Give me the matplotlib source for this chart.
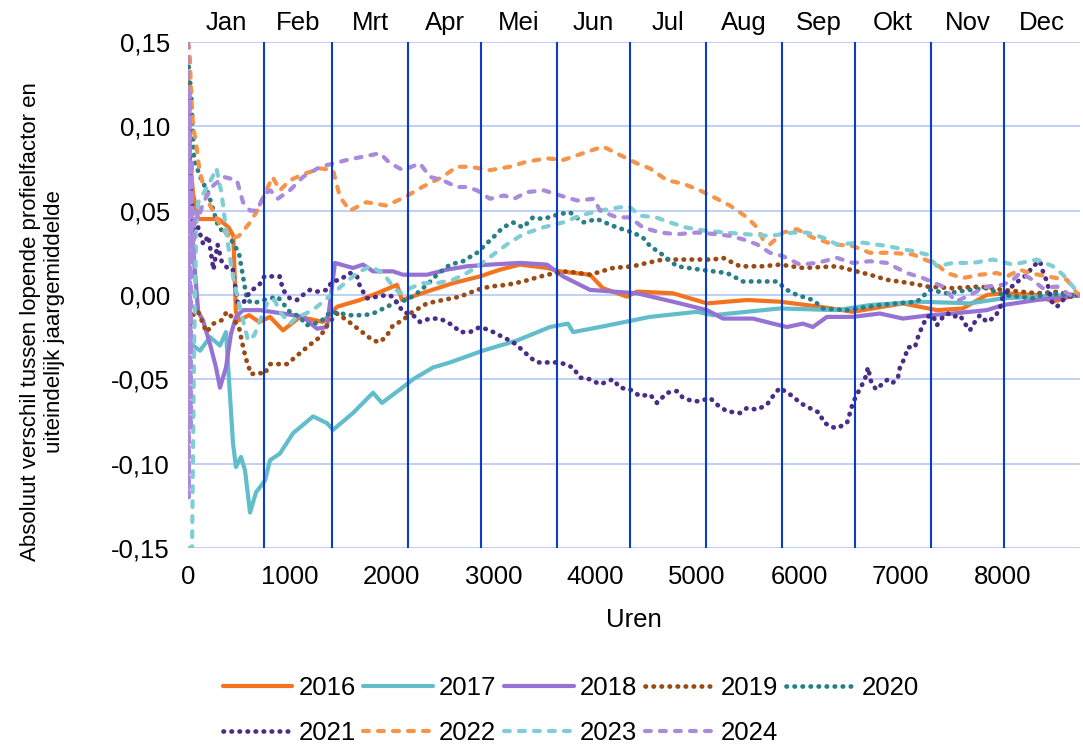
import matplotlib
matplotlib.use('Agg')
import matplotlib.pyplot as plt
from matplotlib.ticker import FuncFormatter

plt.rcParams['font.family'] = ['Liberation Sans', 'DejaVu Sans']
plt.rcParams['axes.unicode_minus'] = False

# uren en waarden per jaar
h2016 = [0, 20, 50, 100, 200, 300, 400, 445, 470, 500, 600, 700, 805, 933, 1100, 1325, 1463, 1689, 1856, 2052,
         2101, 2347, 2602, 2867, 3064, 3260, 3525, 3653, 3948, 4075, 4311, 4409, 4763, 5097, 5490, 5813, 6206, 6530,
         7021, 7355, 7610, 7846, 8003, 8337, 8494, 8661, 8760]
v2016 = [0.13, 0.08, 0.06, 0.045, 0.045, 0.045, 0.04, 0.035, -0.01, -0.015, -0.012, -0.016, -0.013, -0.021, -0.013,
         -0.016, -0.007, -0.003, 0.001, 0.006, -0.003, 0.002, 0.007, 0.011, 0.015, 0.018, 0.016, 0.014, 0.012, 0.004,
         -0.001, 0.002, 0.001, -0.005, -0.003, -0.004, -0.007, -0.010, -0.005, -0.009, -0.008, 0.0, 0.001, 0.0,
         -0.004, -0.001, 0.0]

h2017 = [0, 20, 49, 118, 216, 314, 373, 442, 471, 520, 560, 609, 668, 756, 805, 903, 1031, 1228, 1365, 1424,
         1620, 1817, 1905, 2082, 2210, 2406, 2573, 2897, 3231, 3555, 3732, 3781, 4046, 4537, 4998, 5156, 5813, 6373,
         6697, 7188, 7679, 8003, 8337, 8661, 8760]
v2017 = [0.03, -0.02, -0.03, -0.033, -0.025, -0.03, -0.022, -0.088, -0.102, -0.096, -0.104, -0.129, -0.117, -0.11,
         -0.098, -0.094, -0.082, -0.072, -0.076, -0.080, -0.070, -0.058, -0.064, -0.056, -0.050, -0.043, -0.040,
         -0.033, -0.027, -0.019, -0.017, -0.022, -0.019, -0.013, -0.010, -0.012, -0.008, -0.009, -0.006, -0.004,
         -0.005, -0.002, -0.001, 0.0, 0.0]

h2018 = [0, 20, 60, 100, 147, 220, 275, 314, 373, 422, 471, 540, 707, 933, 1129, 1267, 1365, 1443, 1620, 1719,
         1817, 2013, 2111, 2347, 2543, 2740, 2966, 3260, 3525, 3683, 3948, 4174, 4409, 4763, 5097, 5254, 5548, 5745,
         5882, 6039, 6137, 6275, 6530, 6795, 7021, 7286, 7512, 7846, 8003, 8337, 8661, 8760]
v2018 = [0.10, 0.06, 0.02, -0.01, -0.015, -0.03, -0.043, -0.055, -0.043, -0.023, -0.013, -0.009, -0.009, -0.011,
         -0.013, -0.020, -0.019, 0.019, 0.016, 0.018, 0.014, 0.014, 0.012, 0.012, 0.015, 0.017, 0.018, 0.019, 0.018,
         0.011, 0.003, 0.002, 0.001, -0.004, -0.009, -0.014, -0.014, -0.017, -0.019, -0.017, -0.019, -0.013, -0.013,
         -0.011, -0.014, -0.012, -0.011, -0.009, -0.006, -0.003, -0.001, 0.0]

h2019 = [0, 20, 60, 100, 180, 250, 330, 380, 430, 500, 545, 570, 620, 690, 750, 805, 972, 1129, 1228, 1296,
         1365, 1463, 1561, 1689, 1817, 1885, 1954, 2013, 2111, 2180, 2347, 2504, 2671, 2838, 2966, 3133, 3290, 3525,
         3722, 3948, 4174, 4370, 4507, 4665, 5156, 5254, 5421, 5646, 5813, 6039, 6373, 6501, 6697, 6864, 7090, 7257,
         7512, 7777, 8003, 8337, 8563, 8661, 8760]
v2019 = [0.0, -0.02, -0.01, -0.01, -0.022, -0.017, -0.015, -0.01, -0.013, -0.019, -0.032, -0.038, -0.047, -0.046,
         -0.047, -0.041, -0.041, -0.033, -0.028, -0.025, -0.018, -0.011, -0.015, -0.021, -0.027, -0.028, -0.024,
         -0.018, -0.015, -0.011, -0.005, -0.003, -0.001, 0.003, 0.005, 0.006, 0.008, 0.012, 0.014, 0.012, 0.016,
         0.017, 0.019, 0.021, 0.021, 0.022, 0.017, 0.017, 0.018, 0.016, 0.017, 0.015, 0.012, 0.009, 0.007, 0.005,
         0.004, 0.005, 0.003, 0.001, 0.002, -0.001, 0.0]

h2020 = [0, 30, 60, 120, 200, 300, 400, 500, 540, 580, 640, 740, 880, 1000, 1100, 1160, 1300, 1400, 1600, 1730,
         1817, 1954, 2052, 2150, 2250, 2347, 2445, 2573, 2700, 2838, 2995, 3093, 3192, 3290, 3388, 3486, 3653, 3751,
         3879, 4016, 4212, 4370, 4468, 4537, 4635, 4802, 5028, 5293, 5450, 5784, 5882, 5980, 6137, 6236, 6471, 6795,
         6962, 7159, 7286, 7453, 7679, 7846, 8003, 8298, 8435, 8661, 8760]
v2020 = [0.14, 0.12, 0.08, 0.07, 0.06, 0.04, 0.035, 0.025, 0.011, -0.003, -0.005, -0.003, -0.001, -0.010, -0.013,
         -0.018, -0.016, -0.010, -0.012, -0.012, -0.011, -0.007, -0.004, -0.003, 0.001, 0.006, 0.012, 0.018, 0.020,
         0.025, 0.034, 0.040, 0.043, 0.040, 0.046, 0.045, 0.048, 0.049, 0.043, 0.045, 0.040, 0.037, 0.034, 0.029,
         0.025, 0.017, 0.015, 0.013, 0.008, 0.008, 0.003, 0.0, -0.003, -0.008, -0.009, -0.006, -0.005, -0.004, 0.003,
         0.001, 0.003, 0.004, 0.0, -0.002, 0.001, 0.0, 0.0]

h2021 = [0, 30, 60, 100, 150, 200, 250, 290, 330, 400, 440, 490, 550, 610, 700, 750, 800, 900, 933, 1000,
         1070, 1129, 1198, 1267, 1365, 1414, 1493, 1591, 1660, 1689, 1758, 1856, 1954, 2013, 2111, 2210, 2278, 2376,
         2475, 2602, 2671, 2769, 2867, 2966, 3093, 3192, 3290, 3359, 3427, 3555, 3653, 3781, 3849, 3948, 4046, 4174,
         4242, 4340, 4439, 4537, 4606, 4704, 4802, 4861, 4959, 5028, 5126, 5195, 5293, 5421, 5490, 5589, 5686, 5745,
         5813, 5882, 5941, 6010, 6137, 6206, 6236, 6304, 6373, 6471, 6501, 6530, 6570, 6648, 6678, 6707, 6756, 6874,
         6923, 6972, 6992, 7041, 7070, 7139, 7169, 7208, 7257, 7316, 7355, 7414, 7463, 7512, 7581, 7630, 7679, 7728,
         7777, 7846, 7925, 7974, 8003, 8072, 8170, 8239, 8298, 8367, 8396, 8435, 8484, 8534, 8593, 8661, 8760]
v2021 = [0.12, 0.06, 0.035, 0.04, 0.03, 0.035, 0.015, 0.03, 0.02, 0.015, 0.015, -0.005, -0.004, 0.002, 0.006,
         0.011, 0.011, 0.011, 0.003, -0.002, -0.003, 0.0, 0.003, 0.002, 0.003, 0.008, 0.009, 0.013, 0.011, 0.005,
         -0.002, -0.001, 0.0, -0.001, -0.010, -0.012, -0.016, -0.014, -0.014, -0.018, -0.022, -0.022, -0.019, -0.021,
         -0.025, -0.028, -0.033, -0.037, -0.040, -0.040, -0.040, -0.043, -0.049, -0.050, -0.053, -0.050, -0.055,
         -0.056, -0.060, -0.059, -0.064, -0.058, -0.057, -0.061, -0.063, -0.063, -0.061, -0.065, -0.069, -0.070,
         -0.067, -0.068, -0.065, -0.060, -0.055, -0.058, -0.060, -0.064, -0.068, -0.070, -0.075, -0.078, -0.079,
         -0.076, -0.070, -0.064, -0.059, -0.050, -0.043, -0.051, -0.056, -0.050, -0.052, -0.049, -0.043, -0.037,
         -0.031, -0.031, -0.025, -0.019, -0.013, -0.012, -0.018, -0.013, -0.011, -0.013, -0.012, -0.017, -0.021,
         -0.016, -0.012, -0.016, -0.013, -0.008, -0.001, 0.004, 0.009, 0.012, 0.017, 0.020, 0.014, 0.008, -0.004,
         -0.007, -0.003, 0.0, 0.0]

h2022 = [0, 15, 30, 50, 80, 110, 150, 200, 260, 330, 420, 500, 610, 680, 740, 830, 903, 1000, 1150, 1300,
         1424, 1493, 1590, 1750, 1950, 2130, 2300, 2500, 2640, 2770, 2966, 3160, 3325, 3525, 3683, 3879, 4075, 4242,
         4409, 4537, 4704, 4861, 5028, 5195, 5323, 5490, 5589, 5646, 5715, 5843, 5980, 6137, 6334, 6530, 6697, 6894,
         7120, 7355, 7453, 7610, 7777, 7944, 8043, 8170, 8268, 8435, 8632, 8730, 8760]
v2022 = [0.15, 0.145, 0.12, 0.10, 0.09, 0.075, 0.065, 0.055, 0.048, 0.04, 0.033, 0.035, 0.043, 0.05, 0.058, 0.07,
         0.062, 0.068, 0.072, 0.075, 0.074, 0.058, 0.05, 0.055, 0.053, 0.058, 0.064, 0.070, 0.076, 0.076, 0.074,
         0.076, 0.079, 0.081, 0.080, 0.084, 0.088, 0.083, 0.078, 0.075, 0.068, 0.066, 0.062, 0.057, 0.053, 0.046,
         0.040, 0.033, 0.030, 0.037, 0.039, 0.034, 0.030, 0.029, 0.025, 0.025, 0.024, 0.018, 0.013, 0.010, 0.012,
         0.013, 0.011, 0.015, 0.013, 0.011, 0.009, 0.001, 0.0]

h2023 = [0, 40, 60, 80, 100, 200, 280, 330, 380, 430, 480, 540, 590, 650, 740, 790, 850, 903, 1000, 1070,
         1160, 1267, 1365, 1463, 1561, 1660, 1788, 1915, 2013, 2082, 2180, 2307, 2445, 2602, 2740, 2867, 3133, 3290,
         3486, 3683, 3849, 4046, 4242, 4340, 4439, 4596, 4733, 4891, 5087, 5283, 5480, 5716, 5941, 6079, 6236, 6373,
         6629, 6864, 7120, 7257, 7355, 7512, 7708, 7904, 8102, 8337, 8494, 8593, 8691, 8760]
v2023 = [-0.15, -0.15, -0.03, 0.04, 0.055, 0.065, 0.075, 0.06, 0.035, 0.015, 0.0, -0.015, -0.027, -0.024, -0.01,
         -0.003, -0.003, -0.01, -0.017, -0.013, -0.011, -0.007, -0.002, 0.003, 0.008, 0.013, 0.017, 0.013, 0.005,
         0.001, 0.004, 0.007, 0.007, 0.009, 0.013, 0.018, 0.030, 0.036, 0.040, 0.043, 0.047, 0.050, 0.052, 0.052,
         0.047, 0.046, 0.043, 0.040, 0.038, 0.037, 0.036, 0.035, 0.037, 0.037, 0.034, 0.030, 0.031, 0.029, 0.026,
         0.024, 0.017, 0.019, 0.019, 0.021, 0.018, 0.021, 0.017, 0.012, 0.005, 0.0]

h2024 = [0, 8, 16, 25, 35, 50, 70, 100, 150, 250, 350, 480, 540, 610, 680, 750, 810, 880, 1000, 1130,
         1300, 1430, 1560, 1720, 1885, 1985, 2111, 2278, 2376, 2500, 2640, 2740, 2838, 2966, 3104, 3202, 3329, 3496,
         3653, 3820, 3987, 4046, 4212, 4340, 4468, 4635, 4802, 4999, 5195, 5323, 5450, 5589, 5716, 5843, 6010, 6177,
         6373, 6530, 6697, 6864, 7060, 7218, 7414, 7541, 7679, 7846, 8003, 8102, 8170, 8268, 8396, 8534, 8661, 8730,
         8760]
v2024 = [0.15, -0.12, 0.12, -0.08, 0.08, 0.02, 0.05, 0.045, 0.055, 0.065, 0.07, 0.068, 0.055, 0.05, 0.05, 0.06,
         0.062, 0.057, 0.062, 0.07, 0.076, 0.078, 0.080, 0.082, 0.084, 0.078, 0.074, 0.078, 0.070, 0.068, 0.064,
         0.064, 0.062, 0.057, 0.059, 0.057, 0.061, 0.062, 0.059, 0.056, 0.057, 0.050, 0.046, 0.046, 0.040, 0.037,
         0.036, 0.037, 0.036, 0.035, 0.033, 0.030, 0.025, 0.023, 0.018, 0.019, 0.022, 0.019, 0.020, 0.019, 0.013,
         0.010, 0.005, -0.004, 0.0, 0.005, 0.006, 0.009, 0.013, 0.010, 0.004, 0.005, 0.0, -0.001, 0.0]

maand_grenzen = [744, 1416, 2160, 2880, 3624, 4344, 5088, 5832, 6552, 7296, 8016]
maanden = ['Jan', 'Feb', 'Mrt', 'Apr', 'Mei', 'Jun', 'Jul', 'Aug', 'Sep', 'Okt', 'Nov', 'Dec']

dots = (0, (0.1, 1.6))
dashes = (0, (1.4, 2.2))
series = [
    ('2016', h2016, v2016, '#F4731F', '-', 3.0),
    ('2017', h2017, v2017, '#62BDCB', '-', 3.0),
    ('2018', h2018, v2018, '#9672D4', '-', 3.0),
    ('2019', h2019, v2019, '#9A4A12', dots, 3.4),
    ('2020', h2020, v2020, '#2A7F86', dots, 3.4),
    ('2021', h2021, v2021, '#4B2D88', dots, 3.4),
    ('2022', h2022, v2022, '#F7944A', dashes, 3.0),
    ('2023', h2023, v2023, '#80CDD5', dashes, 3.0),
    ('2024', h2024, v2024, '#A98ADB', dashes, 3.0),
]

fs = 18.5

fig = plt.figure(figsize=(10.83, 7.49), dpi=100)
ax = fig.add_axes([0.1736, 0.2684, 0.8236, 0.6756])

lines = {}
for name, h, v, color, ls, lw in series:
    ln, = ax.plot(h, v, color=color, lw=lw, linestyle=ls, label=name,
                  dash_capstyle='round', solid_capstyle='round', solid_joinstyle='round')
    lines[name] = ln

for g in maand_grenzen:
    ax.axvline(g, color='#0B3CC6', lw=1.5, zorder=5)

grenzen = [0] + maand_grenzen + [8760]
for i, m in enumerate(maanden):
    mid = (grenzen[i] + grenzen[i + 1]) / 2
    ax.text(mid, 0.1615, m, ha='center', va='center', fontsize=fs, clip_on=False)

ax.set_xlim(0, 8760)
ax.set_ylim(-0.15, 0.15)
ax.set_yticks([-0.15, -0.10, -0.05, 0.0, 0.05, 0.10, 0.15])
ax.set_xticks([0, 1000, 2000, 3000, 4000, 5000, 6000, 7000, 8000])
ax.yaxis.set_major_formatter(FuncFormatter(lambda y, p: f'{y:.2f}'.replace('.', ',').replace('-0,00', '0,00')))
ax.tick_params(length=0, labelsize=fs)
ax.tick_params(axis='x', pad=12)
ax.tick_params(axis='y', pad=13)
ax.grid(axis='y', color='#B9CDF6', lw=1.3)
ax.set_axisbelow(True)
for s in ax.spines.values():
    s.set_visible(False)

ax.set_xlabel('Uren', fontsize=fs, labelpad=14)
fig.text(0.039, 0.571, 'Absoluut verschil tussen lopende profielfactor en\nuiteindelijk jaargemiddelde',
         rotation=90, ha='center', va='center', fontsize=16, multialignment='center')

volgorde = ['2016', '2021', '2017', '2022', '2018', '2023', '2019', '2024', '2020']
fig.legend([lines[n] for n in volgorde], volgorde, loc='upper left', bbox_to_anchor=(0.2055, 0.0975),
           ncol=5, frameon=False, fontsize=fs, handlelength=2.7, handletextpad=0.25,
           columnspacing=0.3, labelspacing=0.8, borderpad=0, borderaxespad=0)

fig.savefig('out.png', dpi=100)
